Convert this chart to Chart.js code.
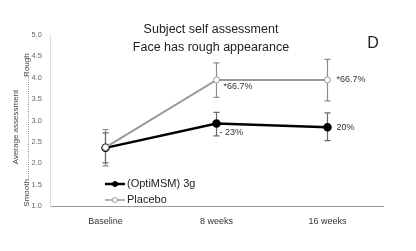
<!DOCTYPE html>
<html>
<head>
<meta charset="utf-8">
<script src="https://cdn.jsdelivr.net/npm/chart.js@4/dist/chart.umd.min.js"></script>
<style>
  html, body { margin: 0; padding: 0; background: #fff; }
  #wrap { width: 416px; height: 251px; }
</style>
</head>
<body>
<div id="wrap"><canvas id="chart" width="416" height="251"></canvas></div>
<script>
// chart values
const weeks = ['Baseline', '8 weeks', '16 weeks'];
const msmValues = [2.36, 2.93, 2.84];
const msmUpper = [2.71, 3.19, 3.18];
const msmLower = [2.01, 2.64, 2.53];
const placeboValues = [2.37, 3.95, 3.95];
const placeboUpper = [2.79, 4.35, 4.43];
const placeboLower = [1.94, 3.54, 3.46];
const msmLabels = ['', '- 23%', '20%'];
const placeboLabels = ['', '*66.7%', '*66.7%'];

const FONT = '"Liberation Sans", Arial, sans-serif';

// error bars, point labels, legend and titles drawn on top
const extras = {
    id: 'extras',
    beforeDatasetsDraw(chart) {
        const ctx = chart.ctx;
        const x = chart.scales.x;
        const y = chart.scales.y;
        const bars = [
            { hi: placeboUpper, lo: placeboLower, color: '#8c8c8c' },
            { hi: msmUpper, lo: msmLower, color: '#6a6a6a' }
        ];
        ctx.save();
        ctx.lineWidth = 1.2;
        bars.forEach(b => {
            ctx.strokeStyle = b.color;
            weeks.forEach((w, i) => {
                const px = x.getPixelForValue(i);
                const top = y.getPixelForValue(b.hi[i]);
                const bot = y.getPixelForValue(b.lo[i]);
                ctx.beginPath();
                ctx.moveTo(px, top); ctx.lineTo(px, bot);
                ctx.moveTo(px - 3, top); ctx.lineTo(px + 3, top);
                ctx.moveTo(px - 3, bot); ctx.lineTo(px + 3, bot);
                ctx.stroke();
            });
        });
        ctx.restore();
    },
    afterDraw(chart) {
        const ctx = chart.ctx;
        const x = chart.scales.x;
        const y = chart.scales.y;
        ctx.save();

        // percent labels
        ctx.font = '9px ' + FONT;
        ctx.fillStyle = '#333';
        ctx.textBaseline = 'middle';
        ctx.textAlign = 'left';
        weeks.forEach((w, i) => {
            const px = x.getPixelForValue(i);
            if (placeboLabels[i]) {
                const off = i === 1 ? 7 : 9;
                const dy = i === 1 ? 7 : 0;
                ctx.fillText(placeboLabels[i], px + off, y.getPixelForValue(placeboValues[i]) + dy);
            }
            if (msmLabels[i]) {
                const off = i === 1 ? 3 : 9;
                const dy = i === 1 ? 9 : 0;
                ctx.fillText(msmLabels[i], px + off, y.getPixelForValue(msmValues[i]) + dy);
            }
        });

        // legend
        ctx.font = '11px ' + FONT;
        const lx = 105;
        const rows = [
            { label: '(OptiMSM) 3g', color: '#000', width: 2.5, fill: '#000', ly: 184 },
            { label: 'Placebo', color: '#999', width: 1.5, fill: '#fff', ly: 200 }
        ];
        rows.forEach(r => {
            ctx.strokeStyle = r.color;
            ctx.lineWidth = r.width;
            ctx.beginPath();
            ctx.moveTo(lx, r.ly); ctx.lineTo(lx + 20, r.ly);
            ctx.stroke();
            ctx.lineWidth = 1;
            ctx.fillStyle = r.fill;
            ctx.beginPath();
            ctx.arc(lx + 10, r.ly, 2.5, 0, Math.PI * 2);
            ctx.fill();
            ctx.stroke();
            ctx.fillStyle = '#222';
            ctx.fillText(r.label, lx + 22, r.ly);
        });

        // chart title
        ctx.font = '12.5px ' + FONT;
        ctx.fillStyle = '#222';
        ctx.textAlign = 'center';
        ctx.fillText('Subject self assessment', 211, 30);
        ctx.fillText('Face has rough appearance', 211, 48);
        ctx.font = '16px ' + FONT;
        ctx.fillText('D', 373, 44);

        // y axis title
        ctx.font = '8px ' + FONT;
        ctx.fillStyle = '#444';
        ctx.save();
        ctx.translate(16, 127);
        ctx.rotate(-Math.PI / 2);
        ctx.fillText('Average assessment', 0, 0);
        ctx.restore();
        ctx.save();
        ctx.translate(27, 130);
        ctx.rotate(-Math.PI / 2);
        ctx.fillText('Smooth..............................................Rough', 0, 0);
        ctx.restore();

        ctx.restore();
    }
};

new Chart(document.getElementById('chart'), {
    type: 'line',
    data: {
        labels: weeks,
        datasets: [
            {
                label: 'Placebo',
                data: placeboValues,
                borderColor: '#999',
                borderWidth: 2,
                pointBackgroundColor: '#fff',
                pointBorderColor: '#999',
                pointBorderWidth: 1,
                pointRadius: 3,
                tension: 0
            },
            {
                label: '(OptiMSM) 3g',
                data: msmValues,
                borderColor: '#000',
                borderWidth: 2.5,
                pointBackgroundColor: '#000',
                pointBorderColor: '#000',
                pointRadius: 3,
                tension: 0
            }
        ]
    },
    options: {
        responsive: false,
        animation: false,
        layout: { padding: { left: 0, right: 33, top: 35, bottom: 0 } },
        plugins: {
            legend: { display: false },
            tooltip: { enabled: false }
        },
        scales: {
            x: {
                offset: true,
                grid: { display: false, drawTicks: false },
                border: { color: '#999', width: 1 },
                ticks: {
                    color: '#333',
                    font: { family: FONT, size: 9 },
                    padding: 10
                },
                afterFit(scale) { scale.height = 45; }
            },
            y: {
                min: 1,
                max: 5,
                grid: { display: false, drawTicks: false },
                border: { color: '#ddd', width: 1 },
                ticks: {
                    stepSize: 0.5,
                    color: '#666',
                    font: { family: FONT, size: 7.5 },
                    padding: 8,
                    callback: v => v.toFixed(1)
                },
                afterFit(scale) { scale.width = 50; }
            }
        }
    },
    plugins: [extras]
});
</script>
</body>
</html>
